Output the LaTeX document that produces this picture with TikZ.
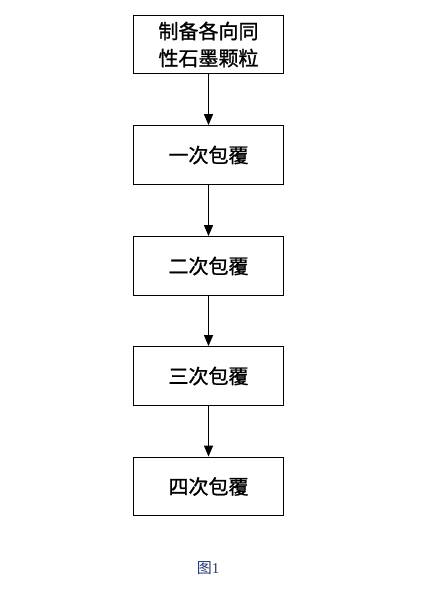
\documentclass[tikz,border=0pt]{standalone}
\usepackage{fontspec}
\newfontfamily\cjk[FakeBold=1.2]{Noto Sans CJK SC}
\newfontfamily\cjkcap{Noto Sans CJK SC}
\setmainfont{Liberation Serif}
\usetikzlibrary{arrows.meta}
\definecolor{capblue}{RGB}{40,55,110}
\begin{document}
\begin{tikzpicture}[x=1pt,y=-1pt,
  stepbox/.style={draw, line width=1.3pt, minimum width=150pt, minimum height=58.5pt, inner sep=0pt, align=center, font=\cjk\fontsize{20}{27}\selectfont},
  flow/.style={-{Triangle[length=11pt,width=9pt]}, line width=1.2pt}]
\useasboundingbox (0,0) rectangle (422,609);
\node[stepbox] (s1) at (208.5,44.5) {制备各向同\\性石墨颗粒};
\node[stepbox] (s2) at (208.5,155) {一次包覆};
\node[stepbox] (s3) at (208.5,266) {二次包覆};
\node[stepbox] (s4) at (208.5,376) {三次包覆};
\node[stepbox] (s5) at (208.5,486.5) {四次包覆};
\draw[flow] (s1) -- (s2);
\draw[flow] (s2) -- (s3);
\draw[flow] (s3) -- (s4);
\draw[flow] (s4) -- (s5);
\node[text=capblue, font=\fontsize{15}{17}\selectfont] (cap) at (208,568) {{\cjkcap 图}1};
\end{tikzpicture}
\end{document}
